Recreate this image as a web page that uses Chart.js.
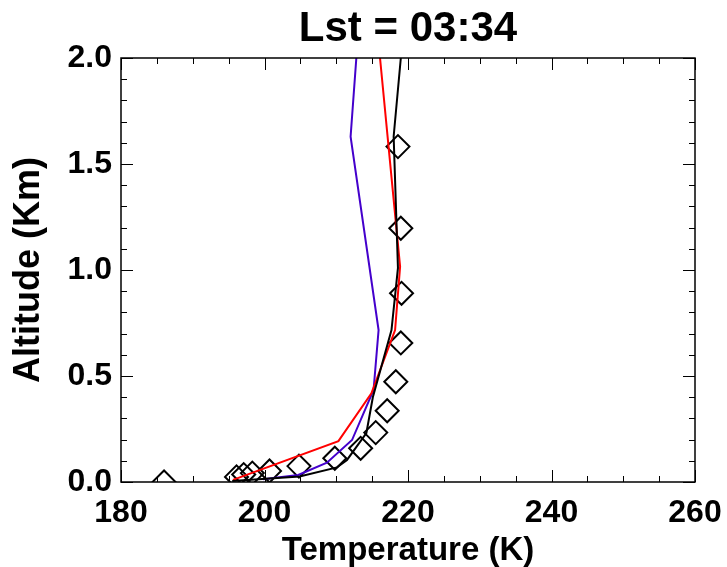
<!DOCTYPE html>
<html>
<head>
<meta charset="utf-8">
<script src="https://cdn.jsdelivr.net/npm/chart.js@4.4.0/dist/chart.umd.min.js"></script>
<style>
  html, body { margin: 0; padding: 0; background: #fff; }
</style>
</head>
<body>
<canvas id="myChart" width="727" height="567"></canvas>
<script>
// observed profile (diamonds)
const obsTemp = [186.0, 196.1, 197.1, 198.3, 200.7, 204.8, 209.8, 213.4, 215.5, 217.1, 218.3, 219.0, 219.1, 219.0, 218.6];
const obsAlt  = [0.0, 0.024, 0.035, 0.042, 0.052, 0.075, 0.112, 0.159, 0.233, 0.336, 0.473, 0.656, 0.89, 1.197, 1.582];

// model profiles
const blackTemp = [195.5, 204.9, 210.1, 211.5, 214.2, 215.1, 217.7, 218.6, 218.0, 219.0];
const blackAlt  = [0.005, 0.026, 0.069, 0.104, 0.231, 0.40, 0.717, 1.01, 1.63, 2.0];
const redTemp   = [195.6, 210.3, 214.9, 218.2, 218.9, 216.1];
const redAlt    = [0.01, 0.193, 0.418, 0.717, 1.016, 2.0];
const blueTemp  = [199.8, 204.7, 208.7, 212.2, 215.2, 215.9, 212.0, 212.8];
const blueAlt   = [0.013, 0.033, 0.091, 0.198, 0.434, 0.717, 1.629, 2.0];

// axis ticks
const xMajor = 20, xMinor = 5;
const yMajor = 0.5, yMinor = 0.1;

const pts = (xs, ys) => xs.map((v, i) => ({x: v, y: ys[i]}));
const bold = size => ({family: "'Liberation Sans', Arial, Helvetica, sans-serif", size: size, weight: 'bold', lineHeight: 1});

// IDL style box with inward ticks on all four sides
const framePlugin = {
  id: 'frame',
  afterDatasetsDraw(chart) {
    const {ctx, chartArea: a, scales: {x, y}} = chart;
    ctx.save();
    ctx.strokeStyle = '#000';
    ctx.lineWidth = 1;
    ctx.beginPath();
    const nx = Math.round((x.max - x.min) / xMinor);
    for (let i = 0; i <= nx; i++) {
      const v = x.min + i * xMinor;
      const px = Math.round(x.getPixelForValue(v)) + 0.5;
      const len = (i * xMinor) % xMajor === 0 ? 12 : 6;
      ctx.moveTo(px, a.bottom); ctx.lineTo(px, a.bottom - len);
      ctx.moveTo(px, a.top); ctx.lineTo(px, a.top + len);
    }
    const ny = Math.round((y.max - y.min) / yMinor);
    for (let i = 0; i <= ny; i++) {
      const v = y.min + i * yMinor;
      const py = Math.round(y.getPixelForValue(v)) + 0.5;
      const len = i % Math.round(yMajor / yMinor) === 0 ? 12 : 6;
      ctx.moveTo(a.left, py); ctx.lineTo(a.left + len, py);
      ctx.moveTo(a.right, py); ctx.lineTo(a.right - len, py);
    }
    ctx.stroke();
    ctx.lineWidth = 1.5;
    ctx.strokeRect(a.left, a.top, a.right - a.left, a.bottom - a.top);
    ctx.restore();
  }
};

const ctx = document.getElementById('myChart').getContext('2d');
new Chart(ctx, {
  type: 'scatter',
  data: {
    datasets: [{
      label: 'model black',
      data: pts(blackTemp, blackAlt),
      showLine: true, borderColor: '#000000', borderWidth: 2, pointRadius: 0, tension: 0, clip: 0
    }, {
      label: 'model red',
      data: pts(redTemp, redAlt),
      showLine: true, borderColor: '#ff0000', borderWidth: 2, pointRadius: 0, tension: 0, clip: 0
    }, {
      label: 'model blue',
      data: pts(blueTemp, blueAlt),
      showLine: true, borderColor: '#4400cc', borderWidth: 2, pointRadius: 0, tension: 0, clip: 0
    }, {
      label: 'observed',
      data: pts(obsTemp, obsAlt),
      showLine: false, pointStyle: 'rectRot', pointRadius: 11.5,
      borderColor: '#000000', backgroundColor: 'rgba(0,0,0,0)', borderWidth: 2, clip: 0
    }]
  },
  options: {
    responsive: false,
    animation: false,
    layout: { padding: { left: 0, right: 32, top: 0, bottom: 0 } },
    plugins: {
      legend: { display: false },
      tooltip: { enabled: false },
      title: {
        display: true,
        text: 'Lst = 03:34',
        fullSize: false,
        color: '#000',
        font: bold(42),
        padding: { top: 8, bottom: 8 }
      }
    },
    scales: {
      x: {
        type: 'linear', min: 180, max: 260,
        grid: { display: false, drawTicks: false },
        border: { display: false },
        ticks: { stepSize: xMajor, padding: 15, color: '#000', font: bold(32), maxRotation: 0 },
        title: { display: true, text: 'Temperature (K)', color: '#000', font: bold(33), padding: { top: 0, bottom: 0 } },
        afterFit: s => { s.height = 85; s.paddingLeft = 0; s.paddingRight = 0; }
      },
      y: {
        type: 'linear', min: 0, max: 2,
        grid: { display: false, drawTicks: false },
        border: { display: false },
        ticks: { stepSize: yMajor, padding: 9, color: '#000', font: bold(32), callback: v => v.toFixed(1) },
        title: { display: true, text: 'Altitude (Km)', color: '#000', font: bold(36), padding: { top: 11, bottom: 0 } },
        afterFit: s => { s.width = 121; }
      }
    }
  },
  plugins: [framePlugin]
});
</script>
</body>
</html>
